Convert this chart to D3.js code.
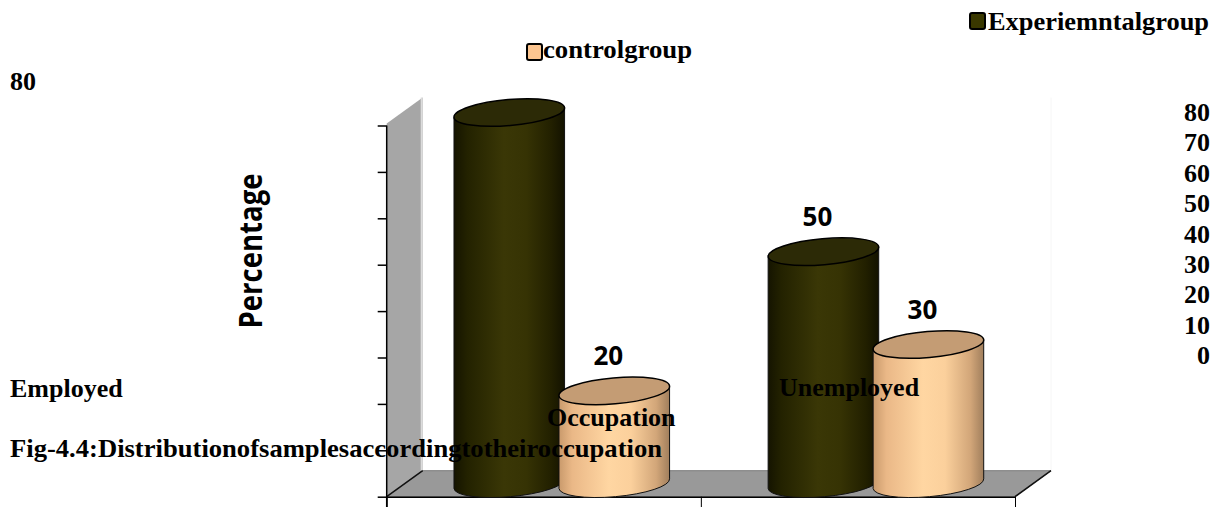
<!DOCTYPE html>
<html>
<head>
<meta charset="utf-8">
<script src="https://cdn.jsdelivr.net/npm/d3@7"></script>
<style>
  html, body { margin: 0; padding: 0; background: #ffffff; }
  svg { display: block; }
  .serif { font-family: "Liberation Serif", "Times New Roman", serif; font-weight: bold; fill: #000; }
  .sans { font-family: "Open Sans", "Liberation Sans", sans-serif; font-weight: bold; fill: #000; }
</style>
</head>
<body>
<svg id="chart" width="1221" height="507"></svg>
<script>
// Occupation of respondents, by study group (percent)
const categories = ["Employed", "Unemployed"];
const seriesNames = ["Experiemntalgroup", "controlgroup"];
const experimental = [80, 50];
const control = [20, 30];
const valueTicks = [0, 10, 20, 30, 40, 50, 60, 70, 80];
const axisTitle = "Percentage";
const categoryTitle = "Occupation";
const caption = "Fig-4.4:Distributionofsamplesaccordingtotheiroccupation";

const svg = d3.select("#chart");

// 3D box geometry: front plane, and depth offset of the back plane
const depth = { dx: 36, dy: -26 };
const front = { left: 386.7, right: 1015, bottom: 496.7, top: 125.5 };

const yFront = d3.scaleLinear().domain([0, 80]).range([front.bottom, front.top]);
// cylinders sit halfway into the box
const yBar = d3.scaleLinear().domain([0, 80])
  .range([front.bottom + depth.dy / 2, front.top + depth.dy / 2]);
const xCat = d3.scaleBand().domain(categories).range([front.left, front.right]);
const xSeries = d3.scaleBand().domain(seriesNames).range([-105, 105]);

const fills = {
  Experiemntalgroup: { side: "gradExp", top: "#2c2a06" },
  controlgroup: { side: "gradCtl", top: "#c49c74" }
};

// gradients for the cylinder sides
const defs = svg.append("defs");
function gradient(id, stops) {
  const g = defs.append("linearGradient").attr("id", id)
    .attr("x1", "0%").attr("x2", "100%").attr("y1", "0%").attr("y2", "0%");
  stops.forEach(([o, c]) => g.append("stop").attr("offset", o).attr("stop-color", c));
}
gradient("gradExp", [["0%", "#151400"], ["12%", "#232200"], ["45%", "#3a3706"],
  ["65%", "#363304"], ["88%", "#222000"], ["100%", "#131200"]]);
gradient("gradCtl", [["0%", "#c99a6c"], ["12%", "#eab887"], ["45%", "#ffd6a2"],
  ["65%", "#fbd09c"], ["88%", "#d2a679"], ["100%", "#a07e5c"]]);

// side wall
const wall = [
  [front.left, yFront(80) - 2],
  [front.left + depth.dx, yFront(80) - 2 + depth.dy],
  [front.left + depth.dx, front.bottom + depth.dy],
  [front.left, front.bottom]
];
svg.append("path")
  .attr("d", d3.line()(wall) + "Z")
  .attr("fill", "#a6a6a6");
svg.append("line")
  .attr("x1", front.left + depth.dx - 1).attr("x2", front.left + depth.dx - 1)
  .attr("y1", yFront(80) - 2 + depth.dy).attr("y2", front.bottom + depth.dy)
  .attr("stroke", "#dcdcdc").attr("stroke-width", 2);

// faint back-right edge
svg.append("line")
  .attr("x1", front.right + depth.dx).attr("x2", front.right + depth.dx)
  .attr("y1", yFront(80) - 2 + depth.dy).attr("y2", front.bottom + depth.dy)
  .attr("stroke", "#f6f6f6").attr("stroke-width", 1);

// floor
const floor = [
  [front.left, front.bottom],
  [front.right, front.bottom],
  [front.right + depth.dx, front.bottom + depth.dy],
  [front.left + depth.dx, front.bottom + depth.dy]
];
svg.append("path")
  .attr("d", d3.line()(floor) + "Z")
  .attr("fill", "#999999")
  .attr("stroke", "#7a7a7a").attr("stroke-width", 1);
svg.append("path")
  .attr("d", d3.line()([floor[0], floor[3]]))
  .attr("stroke", "#111").attr("stroke-width", 1.5);
svg.append("path")
  .attr("d", d3.line()([floor[1], floor[2]]))
  .attr("stroke", "#111").attr("stroke-width", 1.5);

// value axis on the front-left edge (ticks only)
svg.append("g")
  .attr("transform", `translate(${front.left},0)`)
  .call(d3.axisLeft(yFront).tickValues(valueTicks).tickFormat("").tickSize(9).tickSizeOuter(0))
  .call(g => g.select(".domain").remove())
  .call(g => g.selectAll("line").attr("stroke", "#000").attr("stroke-width", 1.5));
svg.append("line")
  .attr("x1", front.left).attr("x2", front.left)
  .attr("y1", yFront(80)).attr("y2", 507)
  .attr("stroke", "#000").attr("stroke-width", 1.5);

// category axis along the front edge
const xEdge = d3.scaleLinear().domain([0, categories.length]).range([front.left, front.right]);
svg.append("g")
  .attr("transform", `translate(0,${front.bottom})`)
  .call(d3.axisBottom(xEdge).tickValues(d3.range(categories.length + 1)).tickFormat("").tickSize(11).tickSizeOuter(0))
  .call(g => g.select(".domain").attr("stroke", "#000").attr("stroke-width", 1.5))
  .call(g => g.selectAll(".tick line").attr("stroke", "#000").attr("stroke-width", 1));

// cylinders
const rx = 55.5, ry = 13, tilt = -5;
const rad = tilt * Math.PI / 180;
const bars = [];
categories.forEach((c, i) => {
  bars.push({ cat: c, series: seriesNames[0], value: experimental[i] });
  bars.push({ cat: c, series: seriesNames[1], value: control[i] });
});
bars.forEach(b => {
  b.cx = xCat(b.cat) + xCat.bandwidth() / 2 + depth.dx / 2 + xSeries(b.series) + xSeries.bandwidth() / 2;
  b.yTop = yBar(b.value);
  b.yBot = yBar(0);
});

const ex = rx * Math.cos(rad), ey = rx * Math.sin(rad);
const cyl = svg.append("g").selectAll("g").data(bars).join("g");
cyl.append("path")
  .attr("d", b => `M${b.cx - ex},${b.yTop - ey} L${b.cx - ex},${b.yBot - ey}
     A${rx},${ry} ${tilt} 0 0 ${b.cx + ex},${b.yBot + ey}
     L${b.cx + ex},${b.yTop + ey} Z`)
  .attr("fill", b => `url(#${fills[b.series].side})`)
  .attr("stroke", "#111").attr("stroke-width", 1);
cyl.append("ellipse")
  .attr("cx", b => b.cx).attr("cy", b => b.yTop)
  .attr("rx", rx).attr("ry", ry)
  .attr("transform", b => `rotate(${tilt},${b.cx},${b.yTop})`)
  .attr("fill", b => fills[b.series].top)
  .attr("stroke", "#000").attr("stroke-width", 1.5);

// value labels above the cylinders; the first one sits at the top-left corner
svg.append("g").selectAll("text").data(bars).join("text")
  .attr("class", (b, i) => i === 0 ? "serif" : "sans")
  .attr("x", (b, i) => i === 0 ? 10 : b.cx - 6)
  .attr("y", (b, i) => i === 0 ? 90 : b.yTop - 26)
  .attr("text-anchor", (b, i) => i === 0 ? "start" : "middle")
  .attr("font-size", 26)
  .text(b => b.value);

// value scale labels listed on the right
const yRight = d3.scaleLinear().domain([0, 80]).range([364, 121]);
svg.append("g").selectAll("text").data(valueTicks).join("text")
  .attr("class", "serif")
  .attr("x", 1210).attr("y", d => yRight(d))
  .attr("text-anchor", "end").attr("font-size", 26)
  .text(d => d);

// axis title
svg.append("text")
  .attr("class", "sans")
  .attr("transform", "translate(262,251) rotate(-90)")
  .attr("text-anchor", "middle")
  .attr("font-size", 33)
  .attr("textLength", 155).attr("lengthAdjust", "spacingAndGlyphs")
  .text(axisTitle);

// category names, category title and caption
const catLabelPos = [[10, 397], [779, 396]];
svg.append("g").selectAll("text").data(categories).join("text")
  .attr("class", "serif")
  .attr("x", (d, i) => catLabelPos[i][0]).attr("y", (d, i) => catLabelPos[i][1])
  .attr("font-size", 26)
  .text(d => d);
svg.append("text").attr("class", "serif")
  .attr("x", 547).attr("y", 426).attr("font-size", 26)
  .text(categoryTitle);
svg.append("text").attr("class", "serif")
  .attr("x", 10).attr("y", 457).attr("font-size", 26)
  .attr("textLength", 652).attr("lengthAdjust", "spacingAndGlyphs")
  .text(caption);

// legend
const legendPos = [[970, 13, 988, 30, 221], [527, 44, 543, 58, 149]];
const legendFill = ["#3a3800", "#fcc590"];
const leg = svg.append("g").selectAll("g").data(seriesNames).join("g");
leg.append("rect")
  .attr("x", (d, i) => legendPos[i][0]).attr("y", (d, i) => legendPos[i][1])
  .attr("width", 15).attr("height", 16).attr("rx", 2)
  .attr("fill", (d, i) => legendFill[i])
  .attr("stroke", "#000").attr("stroke-width", 2);
leg.append("text")
  .attr("class", "serif")
  .attr("x", (d, i) => legendPos[i][2]).attr("y", (d, i) => legendPos[i][3])
  .attr("font-size", 26)
  .attr("textLength", (d, i) => legendPos[i][4]).attr("lengthAdjust", "spacingAndGlyphs")
  .text(d => d);
</script>
</body>
</html>
